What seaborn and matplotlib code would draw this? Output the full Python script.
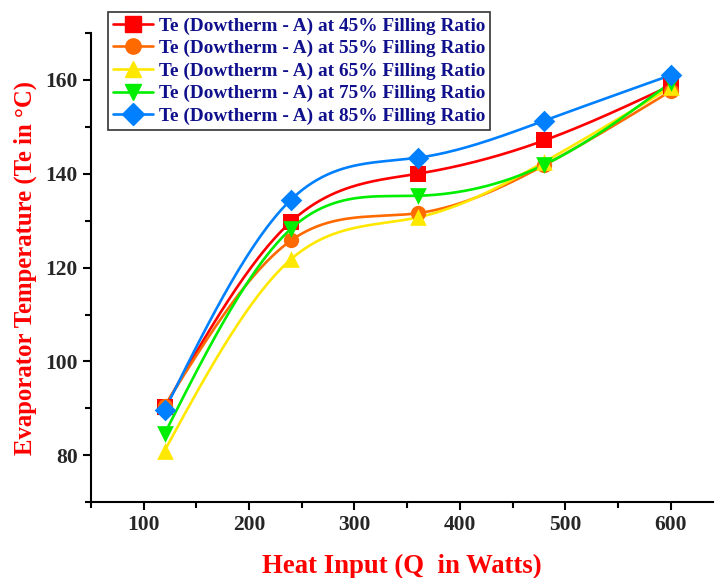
import numpy as np
import pandas as pd
import matplotlib
matplotlib.use("Agg")
import matplotlib.pyplot as plt
import seaborn as sns
from matplotlib.ticker import MultipleLocator

# data
heat_input = [120, 240, 360, 480, 600]
te_45 = [90.3, 129.8, 140.0, 147.1, 158.8]
te_55 = [90.5, 125.8, 131.6, 141.8, 157.6]
te_65 = [81.0, 121.8, 130.7, 142.5, 158.4]
te_75 = [84.6, 128.3, 135.3, 141.9, 159.4]
te_85 = [89.6, 134.5, 143.4, 151.3, 161.0]
labels = ["Te (Dowtherm - A) at 45% Filling Ratio",
          "Te (Dowtherm - A) at 55% Filling Ratio",
          "Te (Dowtherm - A) at 65% Filling Ratio",
          "Te (Dowtherm - A) at 75% Filling Ratio",
          "Te (Dowtherm - A) at 85% Filling Ratio"]
series = [te_45, te_55, te_65, te_75, te_85]
colors = ["#FF0000", "#FF6A00", "#FFE800", "#00EE00", "#0080FF"]
markers = ["s", "o", "^", "v", "D"]
msizes = [11, 11, 12, 12, 11]


def natural_spline(x, y, n=200):
    # simple natural cubic spline just for the smooth look of the curves
    x = np.asarray(x, float)
    y = np.asarray(y, float)
    k = len(x)
    h = np.diff(x)
    A = np.zeros((k, k))
    b = np.zeros(k)
    A[0, 0] = A[-1, -1] = 1
    for i in range(1, k - 1):
        A[i, i - 1] = h[i - 1]
        A[i, i] = 2 * (h[i - 1] + h[i])
        A[i, i + 1] = h[i]
        b[i] = 6 * ((y[i + 1] - y[i]) / h[i] - (y[i] - y[i - 1]) / h[i - 1])
    M = np.linalg.solve(A, b)
    xs = np.linspace(x[0], x[-1], n)
    ys = np.empty_like(xs)
    for j, t in enumerate(xs):
        i = min(np.searchsorted(x, t, side="right") - 1, k - 2)
        a, c = x[i], x[i + 1]
        hi = c - a
        ys[j] = (M[i] * (c - t) ** 3 / (6 * hi) + M[i + 1] * (t - a) ** 3 / (6 * hi)
                 + (y[i] / hi - M[i] * hi / 6) * (c - t)
                 + (y[i + 1] / hi - M[i + 1] * hi / 6) * (t - a))
    return xs, ys


sns.set_style("ticks")
plt.rcParams["font.family"] = ["Liberation Serif", "DejaVu Serif"]

fig = plt.figure(figsize=(7.15, 5.78), dpi=100)
ax = fig.add_axes([0.127, 0.131, 0.870, 0.812])

handles = []
for vals, lab, col, mk, ms in zip(series, labels, colors, markers, msizes):
    xs, ys = natural_spline(heat_input, vals)
    smooth = pd.DataFrame({"x": xs, "y": ys})
    sns.lineplot(data=smooth, x="x", y="y", ax=ax, color=col, linewidth=1.9)
    pts = pd.DataFrame({"x": heat_input, "y": vals})
    sns.scatterplot(data=pts, x="x", y="y", ax=ax, color=col, marker=mk,
                    s=ms ** 2, edgecolor=col, linewidth=0, zorder=3)
    handles.append(plt.Line2D([], [], color=col, linewidth=1.9, marker=mk,
                              markersize=ms, markeredgecolor=col, label=lab))

ax.set_xlim(50, 640)
ax.set_ylim(70, 170)
ax.xaxis.set_major_locator(MultipleLocator(100))
ax.xaxis.set_minor_locator(MultipleLocator(50))
ax.yaxis.set_major_locator(MultipleLocator(20))
ax.yaxis.set_minor_locator(MultipleLocator(10))
ax.tick_params(which="both", direction="out", width=1.5, color="black")
ax.tick_params(which="major", length=6, labelsize=15.5)
ax.tick_params(which="minor", length=4)
for lab in ax.get_xticklabels() + ax.get_yticklabels():
    lab.set_fontweight("bold")
sns.despine(ax=ax)
for sp in ["left", "bottom"]:
    ax.spines[sp].set_linewidth(1.5)
    ax.spines[sp].set_color("black")

ax.set_xlabel("Heat Input (Q  in Watts)", color="red", fontsize=19.3,
              fontweight="bold", labelpad=13)
ax.set_ylabel("Evaporator Temperature (Te in \u00b0C)", color="red", fontsize=17.8,
              fontweight="bold", labelpad=6)

leg = fig.legend(handles=handles, loc="upper left", bbox_to_anchor=(0.151, 0.979),
                 frameon=True, fancybox=False, edgecolor="black", fontsize=13.9,
                 handlelength=2.1, handletextpad=0.3, labelspacing=0.26,
                 borderpad=0.25, borderaxespad=0)
leg.get_frame().set_linewidth(1.2)
for t in leg.get_texts():
    t.set_color("#10108C")
    t.set_fontweight("bold")

fig.savefig("out.png", dpi=100)
